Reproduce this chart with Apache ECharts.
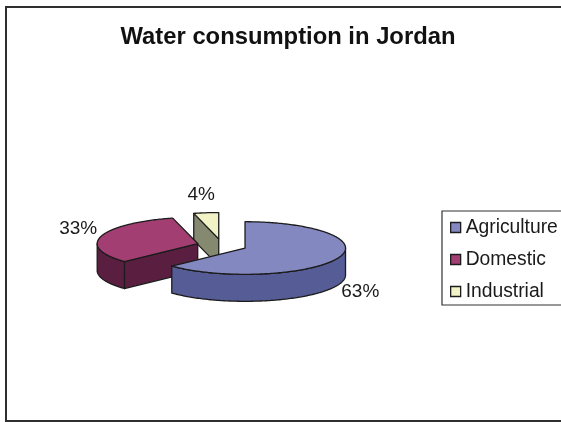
<!DOCTYPE html>
<html>
<head>
<meta charset="utf-8">
<style>html,body{margin:0;padding:0;background:#fff}#c{width:561px;height:422px}</style>
<script src="https://cdn.jsdelivr.net/npm/echarts@6/dist/echarts.min.js"></script>
</head>
<body>
<div id="c"></div>
<script>
const categories = ['Agriculture', 'Domestic', 'Industrial'];
const values = [63, 33, 4];
const topColors = ['#8488C0', '#A23E72', '#F1F3C6'];
const wallColors = ['#555C96', '#5A1F40', '#85896F'];

const FONT = '"Liberation Sans", Arial, sans-serif';
const EDGE = '#1c1c1c';
const layout = { cx: 221.9, cy: 245.4, rx: 100.5, ry: 26.3, depth: 27, explode: 25.2 };
const labelNudge = [[1, 1], [0, -2], [-2, 0]];

const total = values.reduce((a, b) => a + b, 0);
const starts = [];
values.reduce((acc, v, i) => { starts[i] = acc; return acc + v; }, 0);

function slicePieces(i) {
  const L = layout;
  const a0 = starts[i] / total * 360, a1 = (starts[i] + values[i]) / total * 360;
  const rad = d => d * Math.PI / 180;
  const mid = rad((a0 + a1) / 2);
  const ox = L.cx + L.explode * Math.sin(mid);
  const oy = L.cy - L.explode * Math.cos(mid) * L.ry / L.rx;
  const rim = d => [ox + L.rx * Math.sin(rad(d)), oy - L.ry * Math.cos(rad(d))];
  const down = p => [p[0], p[1] + L.depth];
  const children = [];
  const poly = (pts, fill) => children.push({
    type: 'polygon', shape: { points: pts },
    style: { fill: fill, stroke: EDGE, lineWidth: 1.3, lineJoin: 'round' }
  });

  // radial walls that face the viewer
  const apex = [ox, oy];
  if (a0 > 180 && a0 < 360) {
    const p = rim(a0);
    poly([p, apex, down(apex), down(p)], wallColors[i]);
  }
  if (a1 > 0 && a1 < 180) {
    const p = rim(a1);
    poly([p, apex, down(apex), down(p)], wallColors[i]);
  }
  // curved outer wall: front half of the ellipse
  const w0 = Math.max(a0, 90), w1 = Math.min(a1, 270);
  if (w1 > w0) {
    const upper = [];
    for (let d = w0; d < w1; d += 1) upper.push(rim(d));
    upper.push(rim(w1));
    poly(upper.concat(upper.slice().reverse().map(down)), wallColors[i]);
  }
  // top face
  const top = [apex];
  for (let d = a0; d < a1; d += 1) top.push(rim(d));
  top.push(rim(a1));
  poly(top, topColors[i]);

  // percentage label
  const m = rim((a0 + a1) / 2);
  const lx = m[0] + 24 * Math.sin(mid) + labelNudge[i][0];
  const ly = m[1] - 18 * Math.cos(mid) + (Math.cos(mid) < 0 ? L.depth * 0.95 : 0) + labelNudge[i][1];
  children.push({
    type: 'text', z2: 10,
    style: {
      x: lx, y: ly, text: Math.round(values[i] / total * 100) + '%',
      fill: '#1a1a1a', font: '19px ' + FONT, align: 'center', verticalAlign: 'middle'
    }
  });
  return { type: 'group', children: children };
}

const chart = echarts.init(document.getElementById('c'), null, { renderer: 'canvas' });
chart.setOption({
  animation: false,
  backgroundColor: '#fff',
  title: {
    text: 'Water consumption in Jordan', left: 283, top: 20, textAlign: 'center',
    textStyle: { fontFamily: FONT, fontWeight: 'bold', fontSize: 23.8, color: '#111' }
  },
  legend: {
    orient: 'vertical', left: 442, top: 211, icon: 'rect',
    data: categories,
    itemWidth: 10, itemHeight: 10, itemGap: 12,
    padding: [6.5, 8, 3.5, 8],
    borderColor: '#333', borderWidth: 1.2, backgroundColor: '#fff',
    selectedMode: false,
    itemStyle: { borderColor: '#1c1c1c', borderWidth: 1.3 },
    textStyle: { fontFamily: FONT, fontSize: 19.3, lineHeight: 20, color: '#1a1a1a' }
  },
  graphic: [{
    type: 'rect', silent: true, z: -1,
    shape: { x: 6, y: 7, width: 560, height: 414 },
    style: { fill: 'none', stroke: '#2f2f2f', lineWidth: 2 }
  }],
  series: categories.map((name, i) => ({
    type: 'custom', name: name, coordinateSystem: 'none',
    z: 2 + (categories.length - i),
    itemStyle: { color: topColors[i] },
    data: [values[i]],
    renderItem: () => slicePieces(i)
  }))
});
</script>
</body>
</html>
